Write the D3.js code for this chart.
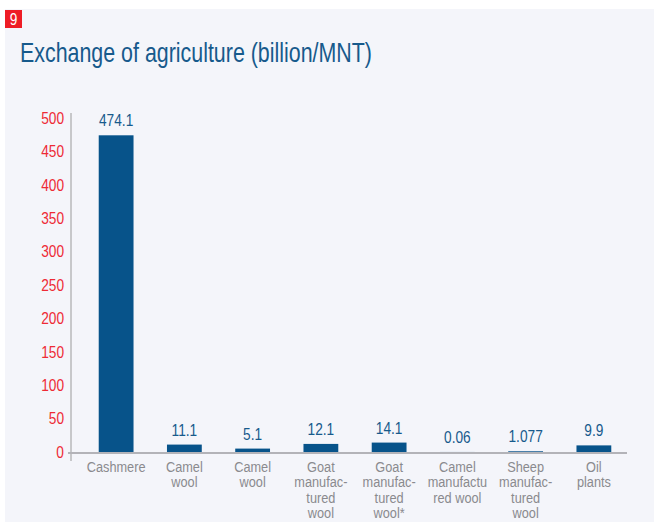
<!DOCTYPE html>
<html>
<head>
<meta charset="utf-8">
<script src="https://cdn.jsdelivr.net/npm/d3@7"></script>
<style>
  html, body { margin: 0; padding: 0; background: #ffffff; }
  svg { display: block; font-family: "Liberation Sans", Arial, sans-serif; }
</style>
</head>
<body>
<svg id="chart" width="654" height="522"></svg>
<script>
// Category labels (line breaks as printed) and values in billion MNT
const categories = [
  ["Cashmere"],
  ["Camel", "wool"],
  ["Camel", "wool"],
  ["Goat", "manufac-", "tured", "wool"],
  ["Goat", "manufac-", "tured", "wool*"],
  ["Camel", "manufactu", "red wool"],
  ["Sheep", "manufac-", "tured", "wool"],
  ["Oil", "plants"]
];
const values = [474.1, 11.1, 5.1, 12.1, 14.1, 0.06, 1.077, 9.9];
const valueLabels = ["474.1", "11.1", "5.1", "12.1", "14.1", "0.06", "1.077", "9.9"];
const yTicks = [0, 50, 100, 150, 200, 250, 300, 350, 400, 450, 500];

// narrow the glyphs horizontally to get a condensed look
function squeeze(sel, f) {
  sel.each(function () {
    const w = this.getComputedTextLength();
    d3.select(this).attr("textLength", w * f).attr("lengthAdjust", "spacingAndGlyphs");
  });
}

const svg = d3.select("#chart");

// panel background
svg.append("rect").attr("x", 5).attr("y", 9).attr("width", 649).attr("height", 513)
  .attr("fill", "#f4f5fa");

// chart number badge
svg.append("rect").attr("x", 5).attr("y", 10).attr("width", 17).attr("height", 18)
  .attr("fill", "#ee1c25");
svg.append("text").attr("x", 13.5).attr("y", 25).attr("text-anchor", "middle")
  .attr("fill", "#ffffff").attr("font-size", 16).text("9")
  .call(squeeze, 0.85);

// title
svg.append("text").attr("x", 20).attr("y", 62)
  .attr("fill", "#175a8c").attr("font-size", 27.5)
  .attr("textLength", 352).attr("lengthAdjust", "spacingAndGlyphs")
  .text("Exchange of agriculture (billion/MNT)");

const x = d3.scaleBand().domain(d3.range(categories.length))
  .range([82, 628]).paddingInner(0.49).paddingOuter(0.245);
const y = d3.scaleLinear().domain([0, 500]).range([452, 118]);

// y axis
const yAxis = d3.axisLeft(y).tickValues(yTicks).tickSize(0).tickPadding(7);
const gy = svg.append("g").attr("transform", "translate(71,0)").call(yAxis);
gy.select(".domain").remove();
gy.selectAll(".tick text").attr("fill", "#ee2a35").attr("font-size", 16.5)
  .attr("font-family", "Liberation Sans, Arial, sans-serif")
  .call(squeeze, 0.83);
svg.append("line").attr("x1", 71).attr("x2", 71).attr("y1", 113).attr("y2", 461)
  .attr("stroke", "#9a9a9a").attr("stroke-width", 1);

// bars
svg.append("g").selectAll("rect").data(values).join("rect")
  .attr("x", (d, i) => x(i))
  .attr("width", x.bandwidth())
  .attr("y", d => y(d))
  .attr("height", d => y(0) - y(d))
  .attr("fill", "#07538a");

// baseline
svg.append("line").attr("x1", 68).attr("x2", 627).attr("y1", 453).attr("y2", 453)
  .attr("stroke", "#b3b3b8").attr("stroke-width", 2);

// value labels
svg.append("g").selectAll("text").data(values).join("text")
  .attr("x", (d, i) => x(i) + x.bandwidth() / 2)
  .attr("y", d => y(d) - 9)
  .attr("text-anchor", "middle")
  .attr("fill", "#175a8c").attr("font-size", 16.5)
  .text((d, i) => valueLabels[i])
  .call(squeeze, 0.83);

// category labels
const cat = svg.append("g").selectAll("text").data(categories).join("text")
  .attr("text-anchor", "middle")
  .attr("fill", "#8a8a8e").attr("font-size", 14);
cat.each(function (lines, i) {
  const t = d3.select(this);
  lines.forEach((ln, k) => {
    t.append("tspan").attr("x", x(i) + x.bandwidth() / 2)
      .attr("y", 471.5 + k * 15.6).text(ln);
  });
});
cat.selectAll("tspan").call(squeeze, 0.91);
</script>
</body>
</html>
